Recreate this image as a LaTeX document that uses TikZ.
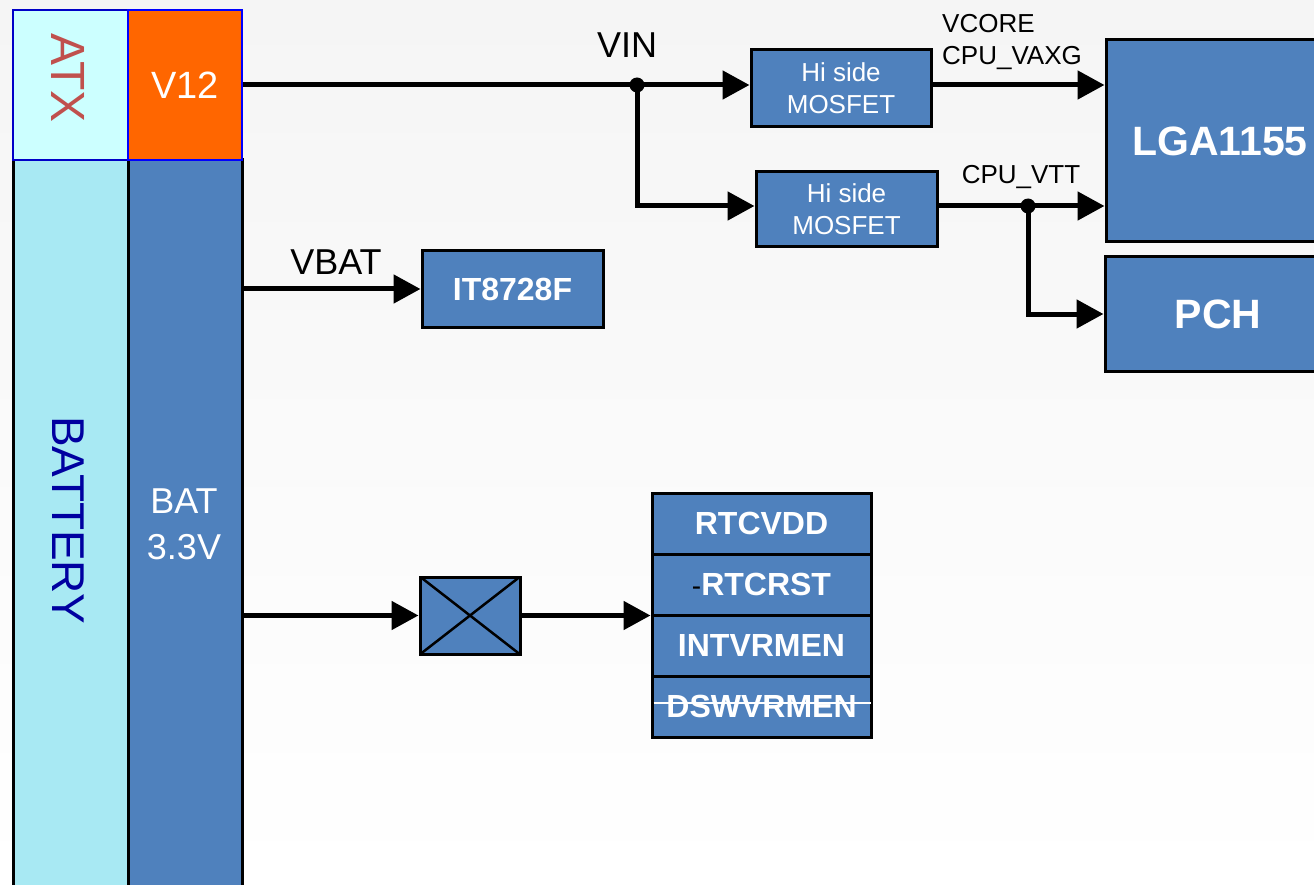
\documentclass[tikz,border=0pt]{standalone}
\usepackage{fontspec}
\setmainfont{Liberation Sans}
\usetikzlibrary{arrows.meta}

\definecolor{bgtop}{HTML}{F5F5F5}
\definecolor{boxblue}{HTML}{4F81BD}
\definecolor{atxfill}{HTML}{CCFFFF}
\definecolor{atxtext}{HTML}{C0504D}
\definecolor{batfill}{HTML}{A8E9F3}
\definecolor{battext}{HTML}{0000A0}
\definecolor{v12fill}{HTML}{FF6600}
\definecolor{edgeblue}{HTML}{0000C8}

\newcommand{\fs}[1]{\fontsize{#1}{1.25\dimexpr#1pt\relax}\selectfont}

\tikzset{
  blk/.style={draw=black, line width=3pt, fill=boxblue, text=white,
    inner sep=0pt, align=center},
  wire/.style={line width=5pt},
  arr/.style={wire, -{Triangle[length=27pt,width=28pt]}},
  dot/.style={circle, fill=black, inner sep=0pt, minimum size=15pt},
  lbl/.style={inner sep=0pt, text=black},
}

\begin{document}
\begin{tikzpicture}[x=1pt,y=-1pt]
\useasboundingbox (0,0) rectangle (1314,885);
\shade[top color=bgtop, bottom color=white] (0,0) rectangle (1314,885);

% power source columns
\node[draw=black, line width=3pt, fill=batfill, inner sep=0pt,
  minimum width=115pt, minimum height=740pt] (battery) at (70.5,530) {};
\node[lbl, text=battext, rotate=-90, font=\fs{46}] (batterytext) at (68,520) {BATTERY};
\node[blk, minimum width=114pt, minimum height=740pt] (bat) at (185,530) {};
\node[lbl, text=white, align=center, font=\fs{36}, execute at begin node={\baselineskip=46pt}]
  (battext) at (184,524) {BAT\\3.3V};
\node[draw=edgeblue, line width=2.5pt, fill=atxfill, inner sep=0pt,
  minimum width=115pt, minimum height=150pt] (atx) at (70.5,85) {};
\node[lbl, text=atxtext, rotate=-90, font=\fs{48}] (atxtext) at (68,78) {ATX};
\node[draw=blue, line width=2.5pt, fill=v12fill, text=white, inner sep=0pt,
  minimum width=114pt, minimum height=150pt, font=\fs{38}] (v12) at (185,85) {V12};

% VIN rail and regulators
\node[blk, minimum width=180pt, minimum height=77pt, font=\fs{26},
  execute at begin node={\baselineskip=32pt}] (mosa) at (841,88.5) {Hi side\\MOSFET};
\node[blk, minimum width=181pt, minimum height=75pt, font=\fs{26},
  execute at begin node={\baselineskip=32pt}] (mosb) at (846.5,209.5) {Hi side\\MOSFET};
\node[blk, minimum width=228pt, minimum height=202pt, font=\bfseries\fs{41}] (lga) at (1220,141) {LGA1155};
\node[blk, minimum width=226pt, minimum height=114pt, font=\bfseries\fs{41}] (pch) at (1218,314) {PCH};

\coordinate (vin) at (637,85);
\coordinate (vtt) at (1028,206);

\node[lbl, font=\fs{36}] (vinlbl) at (627,45) {VIN};
\node[lbl, font=\fs{26}, anchor=west, align=left,
  execute at begin node={\baselineskip=32pt}] (vcorelbl) at (942,42) {VCORE\\CPU\_VAXG};
\node[lbl, font=\fs{26}] (vttlbl) at (1021,177) {CPU\_VTT};

\draw[arr] (v12.east |- vin) -- (mosa.west |- vin);
\draw[arr] (vin) |- (mosb.west |- vtt);
\node[dot] at (vin) {};
\draw[arr] (mosa.east |- vin) -- (lga.west |- vin);
\draw[wire] (mosb.east |- vtt) -- (vtt);
\draw[arr] (vtt) -- (lga.west |- vtt);
\draw[arr] (vtt) |- (pch.west);
\node[dot] at (vtt) {};

% VBAT to super I/O
\node[blk, minimum width=181pt, minimum height=76pt, font=\bfseries\fs{32}] (sio) at (512.5,289) {IT8728F};
\node[lbl, font=\fs{36}] (vbatlbl) at (336,262) {VBAT};
\draw[arr] (sio.west -| bat.east) -- (sio.west);

% jumper (crossed box) and RTC well signals
\node[blk, minimum width=100pt, minimum height=77pt] (jumper) at (470,615.5) {};
\begin{scope}
  \clip ([shift={(1.5pt,-1.5pt)}]jumper.north west) rectangle ([shift={(-1.5pt,1.5pt)}]jumper.south east);
  \draw[line width=2.5pt] (jumper.north west) -- (jumper.south east)
    (jumper.south west) -- (jumper.north east);
\end{scope}

\node[blk, minimum width=219pt, minimum height=61pt, font=\bfseries\fs{32}] (rtcvdd) at (761.5,523.5) {RTCVDD};
\node[blk, minimum width=219pt, minimum height=61pt, font=\bfseries\fs{32}] (rtcrst) at (761.5,584.5)
  {{\color{black}\fs{28}\mdseries-}RTCRST};
\node[blk, minimum width=219pt, minimum height=61pt, font=\bfseries\fs{32}] (intvr) at (761.5,645.5) {INTVRMEN};
\node[blk, minimum width=219pt, minimum height=61pt, font=\bfseries\fs{32}] (dswvr) at (761.5,706.5) {DSWVRMEN};
\draw[white, line width=1.5pt] ([xshift=3pt,yshift=3.5pt]dswvr.west) -- ([xshift=-2pt,yshift=3.5pt]dswvr.east);

\draw[arr] (jumper.west -| bat.east) -- (jumper.west);
\draw[arr] (jumper.east) -- (jumper.east -| rtcrst.west);
\end{tikzpicture}
\end{document}
